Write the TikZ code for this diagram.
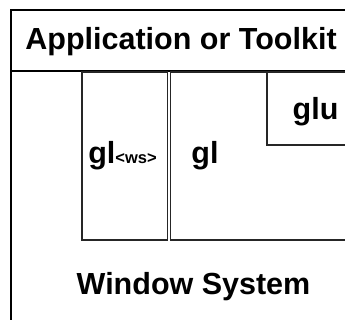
\documentclass[tikz,border=0pt]{standalone}
\usepackage{fontspec}
\setmainfont{Liberation Sans}
\begin{document}
\begin{tikzpicture}[x=1pt,y=-1pt,
  outerline/.style={draw=black,line width=2pt},
  innerbox/.style={draw=black!85,line width=1.1pt},
  lbl/.style={font=\fontsize{30.5}{36}\selectfont\bfseries,inner sep=0pt,anchor=base}]
\useasboundingbox (0,0) rectangle (345,320);
\clip (0,0) rectangle (345,320);
\fill[white] (0,0) rectangle (345,320);
% outer frame (extends beyond the visible area)
\draw[outerline] (11,10) rectangle (370,350);
\draw[outerline] (11,71) -- (370,71);
% inner boxes
\draw[innerbox] (82,72) rectangle (167.5,240);
\draw[innerbox] (170.5,72) rectangle (370,240);
\draw[innerbox] (267,72) rectangle (370,145);
% labels
\node[lbl] (app) at (181,50) {Application or Toolkit};
\node[lbl] (glws) at (122.5,164) {gl{\fontsize{16.5}{20}\selectfont\symbol{60}ws\symbol{62}}};
\node[lbl] (gl) at (205,164) {gl};
\node[lbl] (glu) at (315.5,120) {glu};
\node[lbl] (ws) at (193.5,294) {Window System};
\end{tikzpicture}
\end{document}
